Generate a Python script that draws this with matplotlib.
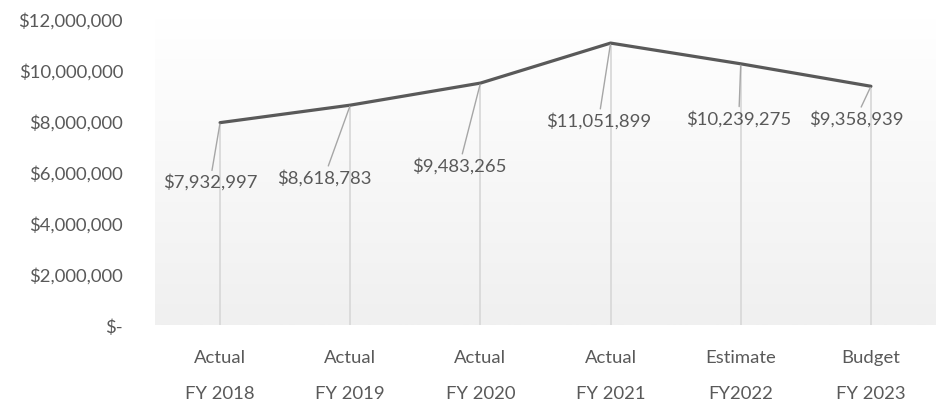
import numpy as np
from matplotlib import pyplot as plt
from matplotlib.ticker import FuncFormatter

categories = ['Actual\nFY 2018', 'Actual\nFY 2019', 'Actual\nFY 2020',
              'Actual\nFY 2021', 'Estimate\nFY2022', 'Budget\nFY 2023']
values = [7932997, 8618783, 9483265, 11051899, 10239275, 9358939]
# label offsets from each point, in pixels (x right, y up)
label_offsets = [(-10, -59), (-26, -72), (-21, -82), (-12, -77), (-2, -54), (-15, -32)]

plt.rcParams['font.family'] = ['Lato', 'DejaVu Sans']
text_color = '#595959'
fs = 13.3

fig = plt.figure(figsize=(9.36, 4.06), dpi=100)
ax = fig.add_axes([0.1656, 0.197, 0.8344, 0.754])

x = np.arange(len(values))
ax.set_xlim(-0.5, len(values) - 0.5)
ax.set_ylim(0, 12000000)

# plot area gradient, white at top to light gray at bottom
grad = np.linspace(1.0, 0.0, 256).reshape(-1, 1)
ax.imshow(grad, extent=[-0.5, len(values) - 0.5, 0, 12000000], aspect='auto',
          cmap=plt.matplotlib.colors.LinearSegmentedColormap.from_list(
              'bg', ['#f0f0f0', '#ffffff']), origin='upper', zorder=0)

ax.vlines(x, 0, values, color='#d9d9d9', lw=1.3, zorder=1)
ax.plot(x, values, color='#595959', lw=2.3, zorder=3, solid_capstyle='round')

for xi, v, (dx, dy) in zip(x, values, label_offsets):
    ax.annotate(f'${v:,.0f}', xy=(xi, v), xytext=(dx, dy), textcoords='offset pixels',
                ha='center', va='center', fontsize=fs, color=text_color,
                arrowprops=dict(arrowstyle='-', color='#a6a6a6', lw=1.0,
                                shrinkA=0, shrinkB=1), zorder=4)

ax.yaxis.set_major_formatter(FuncFormatter(lambda v, p: '$-' if v == 0 else f'${v:,.0f}'))
ax.set_yticks(np.arange(0, 12000001, 2000000))
ax.set_xticks(x)
ax.set_xticklabels(categories, linespacing=2.6)

ax.tick_params(axis='both', length=0, labelsize=fs, labelcolor=text_color)
ax.tick_params(axis='y', pad=23)
ax.tick_params(axis='x', pad=17)

for s in ax.spines.values():
    s.set_visible(False)

plt.savefig('out.png', dpi=100)
